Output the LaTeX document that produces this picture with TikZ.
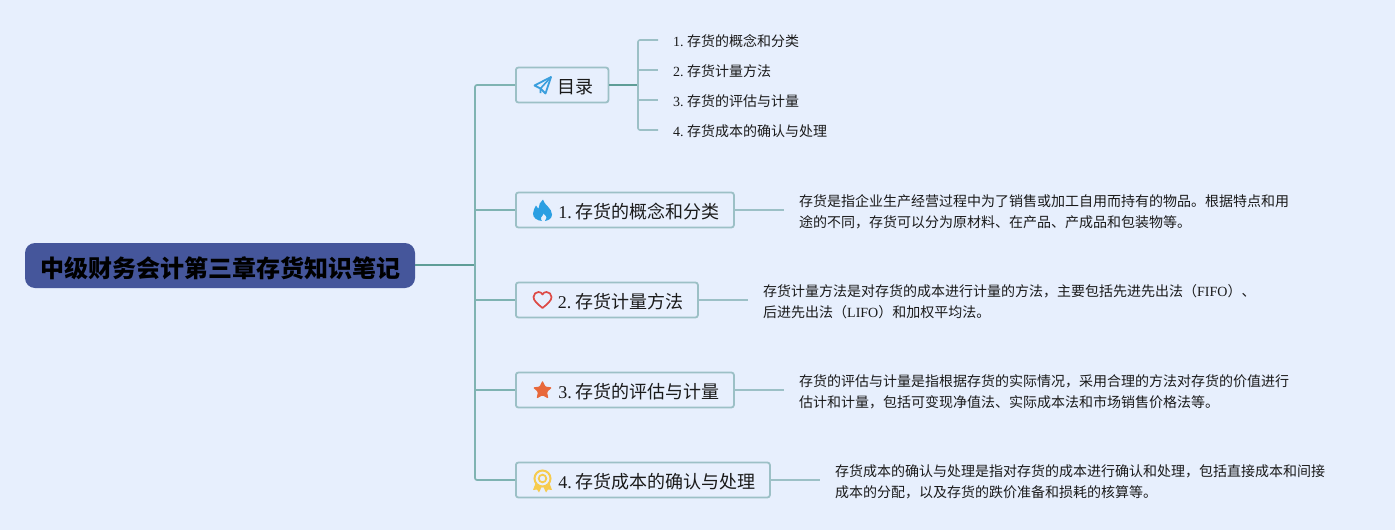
\documentclass[tikz,border=0pt]{standalone}
\usepackage{fontspec}
\setmainfont{Liberation Serif}
\newfontfamily\cjk{Noto Sans CJK SC}
\definecolor{bgc}{HTML}{E7EFFD}
\definecolor{rootc}{HTML}{45569B}
\definecolor{edgeA}{HTML}{5F9D97}
\definecolor{edgeT}{HTML}{7FB3B2}
\definecolor{edgeB}{HTML}{9CC0C6}
\definecolor{txt}{HTML}{1A1A1A}
\definecolor{planec}{HTML}{3B9FDD}
\definecolor{flamec}{HTML}{2B9FE2}
\definecolor{heartc}{HTML}{DD4A45}
\definecolor{starc}{HTML}{E8683A}
\definecolor{medalc}{HTML}{F6CB4E}
\newcommand{\T}[1]{{\cjk #1}}
\newcommand{\Dn}[1]{\rule{0pt}{19pt}#1}
\newcommand{\Num}[1]{#1.\hspace{3.6pt}}
\tikzset{
  x=1pt,y=-1pt,
  rootbox/.style={fill=rootc,rounded corners=10pt,minimum width=390pt,minimum height=45pt,inner sep=0pt,text=black,
    font=\cjk\bfseries\fontsize{24}{28}\selectfont},
  branch/.style={draw=edgeB,line width=1.8pt,fill=bgc,rounded corners=2.5pt,minimum height=35pt,inner xsep=0pt,inner ysep=0pt,
    anchor=west,align=left,text=txt,font=\frenchspacing\fontsize{18}{22}\selectfont},
  leaf/.style={anchor=west,inner sep=0pt,text=txt,font=\frenchspacing\fontsize{14}{18}\selectfont},
  detail/.style={anchor=west,inner sep=0pt,align=left,text=txt,font=\frenchspacing\fontsize{14}{21}\selectfont},
  trunkline/.style={draw=edgeT,line width=1.7pt},
  forkline/.style={draw=edgeA,line width=1.7pt},
  subline/.style={draw=edgeB,line width=1.6pt,rounded corners=2pt},
}
\begin{document}
\begin{tikzpicture}
\useasboundingbox (0,0) rectangle (1395,530);
\fill[bgc] (0,0) rectangle (1395,530);
% coordinates
\coordinate (trunk) at (475,265);
\coordinate (fork) at (638,85);
\coordinate (e1) at (784,210);
\coordinate (e2) at (748,300);
\coordinate (e3) at (784,390);
\coordinate (e4) at (820,480);
\coordinate (s1) at (658,40);
\coordinate (s2) at (658,70);
\coordinate (s3) at (658,100);
\coordinate (s4) at (658,130);
% nodes
\node[rootbox] (root) at (220,265.5) {\hspace*{1.5pt}\rule{0pt}{26pt}中级财务会计第三章存货知识笔记};
\node[branch,text width=92.5pt] (b0) at (515,85) {\hspace*{42pt}\Dn{\T{目录}}};
\node[branch,text width=218pt] (b1) at (515,210) {\hspace*{42.5pt}\Dn{\Num{1}\T{存货的概念和分类}}};
\node[branch,text width=182pt] (b2) at (515,300) {\hspace*{42pt}\Dn{\Num{2}\T{存货计量方法}}};
\node[branch,text width=218pt] (b3) at (515,390) {\hspace*{42.5pt}\Dn{\Num{3}\T{存货的评估与计量}}};
\node[branch,text width=254pt] (b4) at (515,480) {\hspace*{42.5pt}\Dn{\Num{4}\T{存货成本的确认与处理}}};
\node[leaf] (l1) at (673,41) {1. \T{存货的概念和分类}};
\node[leaf] (l2) at (673,71) {2. \T{存货计量方法}};
\node[leaf] (l3) at (673,101) {3. \T{存货的评估与计量}};
\node[leaf] (l4) at (673,131) {4. \T{存货成本的确认与处理}};
\node[detail] (d1) at (799,212) {\T{存货是指企业生产经营过程中为了销售或加工自用而持有的物品。根据特点和用}\\\T{途的不同，存货可以分为原材料、在产品、产成品和包装物等。}};
\node[detail] (d2) at (763,302) {\T{存货计量方法是对存货的成本进行计量的方法，主要包括先进先出法（}FIFO\T{）、}\\\T{后进先出法（}LIFO\T{）和加权平均法。}};
\node[detail] (d3) at (799,392) {\T{存货的评估与计量是指根据存货的实际情况，采用合理的方法对存货的价值进行}\\\T{估计和计量，包括可变现净值法、实际成本法和市场销售价格法等。}};
\node[detail] (d4) at (835,482) {\T{存货成本的确认与处理是指对存货的成本进行确认和处理，包括直接成本和间接}\\\T{成本的分配，以及存货的跌价准备和损耗的核算等。}};
% connectors
\draw[forkline] (root.east |- trunk) -- (trunk);
\draw[trunkline,rounded corners=2pt] (b0.west) -- (trunk |- b0.west) -- (trunk |- b4.west) -- (b4.west);
\draw[trunkline] (trunk |- b1.west) -- (b1.west);
\draw[trunkline] (trunk |- b2.west) -- (b2.west);
\draw[trunkline] (trunk |- b3.west) -- (b3.west);
\draw[forkline] (b0.east) -- (fork);
\draw[subline] (s1) -- (fork |- s1) -- (fork |- s4) -- (s4);
\draw[subline] (fork |- s2) -- (s2);
\draw[subline] (fork |- s3) -- (s3);
\draw[subline] (b1.east) -- (e1);
\draw[subline] (b2.east) -- (e2);
\draw[subline] (b3.east) -- (e3);
\draw[subline] (b4.east) -- (e4);
% icons
% paper plane
\draw[planec,line width=1.8pt,line join=round] (551,77) -- (534.5,85.5) -- (540.5,88.5) -- (545.5,93.5) -- cycle;
\draw[planec,line width=1.6pt,line join=round] (551,77) -- (540.5,88.5) -- (540.5,93);
% flame
\fill[flamec] (543,199.5) .. controls (544,205) and (552,208) .. (552,214.5) .. controls (552,218.5) and (548.5,220.5) .. (545,221)
  .. controls (547,219.5) and (547.5,216.5) .. (543.5,213.5) .. controls (543.5,216) and (541.5,215.5) .. (541,217.5)
  .. controls (540.7,219) and (541,220.5) .. (542,221) .. controls (537,220.5) and (533,218) .. (533,213.5)
  .. controls (533,210) and (535,208) .. (536,205.5) .. controls (537,207) and (537.5,208) .. (538.5,208.5)
  .. controls (539,205) and (540,201.5) .. (543,199.5) -- cycle;
% heart
\draw[heartc,line width=1.7pt,line join=round] (542.5,308) .. controls (537,303.5) and (533.5,300.5) .. (533.5,297)
  .. controls (533.5,294) and (536,292) .. (538.5,292) .. controls (540.5,292) and (541.8,293) .. (542.5,294.5)
  .. controls (543.2,293) and (544.5,292) .. (546.5,292) .. controls (549,292) and (551.5,294) .. (551.5,297)
  .. controls (551.5,300.5) and (548,303.5) .. (542.5,308) -- cycle;
% star
\fill[starc,rounded corners=1pt] (542.5,380.5) -- (545.4,386.6) -- (552,387.4) -- (547.1,392) -- (548.4,398.6) -- (542.5,395.3) -- (536.6,398.6) -- (537.9,392) -- (533,387.4) -- (539.6,386.6) -- cycle;
% medal
\fill[medalc] (536,482) -- (533,490) -- (537,489.5) -- (539,492.5) -- (542,486) -- cycle;
\fill[medalc] (549,482) -- (552,490) -- (548,489.5) -- (546,492.5) -- (543,486) -- cycle;
\draw[medalc,line width=2pt,fill=bgc] (542.5,478.5) circle (8);
\draw[medalc,line width=1.8pt] (542.5,478.5) circle (3.8);
\end{tikzpicture}
\end{document}
